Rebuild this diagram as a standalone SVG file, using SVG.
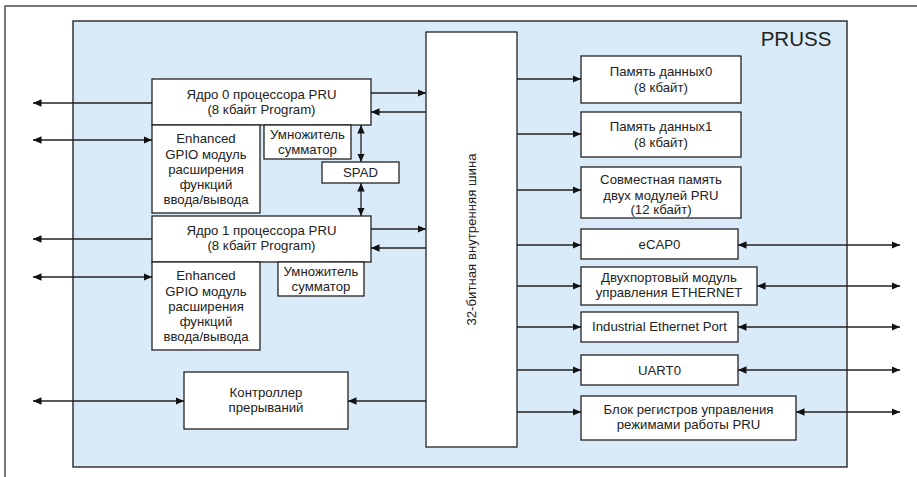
<svg xmlns="http://www.w3.org/2000/svg" width="917" height="477" viewBox="0 0 917 477">
<defs>
<marker id="ah" markerUnits="userSpaceOnUse" markerWidth="9" markerHeight="8" refX="8.5" refY="3.75" orient="auto-start-reverse">
<path d="M0,0 L8.5,3.75 L0,7.5 z" fill="#111"/>
</marker>
<style>
.box{fill:#fff;stroke:#222;stroke-width:1.3}
.t{font-family:"Liberation Sans",Arial,sans-serif;font-size:13.2px;fill:#222;text-anchor:middle}
.c{fill:none;stroke:#222;stroke-width:1.3}
.e{marker-end:url(#ah)}
.b{marker-start:url(#ah);marker-end:url(#ah)}
</style>
</defs>
<rect x="0" y="0" width="917" height="477" fill="#fff"/>
<rect x="5" y="6" width="930" height="490" fill="none" stroke="#333" stroke-width="1.3"/>
<g id="pruss">
<rect x="73" y="21" width="774" height="446" fill="#d9eaf8" stroke="#333" stroke-width="1.5"/>
<text x="796" y="46" style="font-family:'Liberation Sans',Arial,sans-serif;font-size:20.5px;fill:#222;text-anchor:middle">PRUSS</text>
</g>
<g id="bus">
<rect class="box" x="426" y="32" width="91" height="415"/>
<text class="t" transform="translate(475.5,239.5) rotate(-90)">32-битная внутренняя шина</text>
</g>
<g id="core0">
<rect class="box" x="152" y="79" width="219" height="46"/>
<text class="t" x="261.5" y="99">Ядро 0 процессора PRU</text>
<text class="t" x="261.5" y="114">(8 кбайт Program)</text>
</g>
<g id="gpio0">
<rect class="box" x="152" y="125" width="108" height="88"/>
<text class="t" x="206" y="143">Enhanced</text>
<text class="t" x="206" y="159">GPIO модуль</text>
<text class="t" x="206" y="174">расширения</text>
<text class="t" x="206" y="189">функций</text>
<text class="t" x="206" y="204">ввода/вывода</text>
</g>
<g id="mul0">
<rect class="box" x="264" y="125" width="87" height="34"/>
<text class="t" x="307.5" y="139">Умножитель</text>
<text class="t" x="307.5" y="154">сумматор</text>
</g>
<g id="spad">
<rect class="box" x="322" y="162" width="77" height="21"/>
<text class="t" x="360.5" y="177">SPAD</text>
</g>
<g id="core1">
<rect class="box" x="152" y="216" width="219" height="46"/>
<text class="t" x="261.5" y="235">Ядро 1 процессора PRU</text>
<text class="t" x="261.5" y="250">(8 кбайт Program)</text>
</g>
<g id="gpio1">
<rect class="box" x="152" y="262" width="108" height="88"/>
<text class="t" x="206" y="280">Enhanced</text>
<text class="t" x="206" y="296">GPIO модуль</text>
<text class="t" x="206" y="311">расширения</text>
<text class="t" x="206" y="326">функций</text>
<text class="t" x="206" y="341">ввода/вывода</text>
</g>
<g id="mul1">
<rect class="box" x="278" y="262" width="86" height="34"/>
<text class="t" x="321" y="276">Умножитель</text>
<text class="t" x="321" y="291">сумматор</text>
</g>
<g id="intc">
<rect class="box" x="184" y="372" width="164" height="57"/>
<text class="t" x="266" y="397">Контроллер</text>
<text class="t" x="266" y="412">прерываний</text>
</g>
<g id="dmem0">
<rect class="box" x="581" y="56" width="160" height="47"/>
<text class="t" x="661" y="76">Память данных0</text>
<text class="t" x="661" y="92">(8 кбайт)</text>
</g>
<g id="dmem1">
<rect class="box" x="581" y="112" width="160" height="45"/>
<text class="t" x="661" y="131">Память данных1</text>
<text class="t" x="661" y="147">(8 кбайт)</text>
</g>
<g id="shmem">
<rect class="box" x="581" y="167" width="160" height="51"/>
<text class="t" x="661" y="184">Совместная память</text>
<text class="t" x="661" y="200">двух модулей PRU</text>
<text class="t" x="661" y="214">(12 кбайт)</text>
</g>
<g id="ecap">
<rect class="box" x="581" y="229" width="157" height="30"/>
<text class="t" x="659.5" y="249">eCAP0</text>
</g>
<g id="mii">
<rect class="box" x="581" y="267" width="176" height="38"/>
<text class="t" x="669" y="282">Двухпортовый модуль</text>
<text class="t" x="669" y="297">управления ETHERNET</text>
</g>
<g id="iep">
<rect class="box" x="581" y="312" width="157" height="30"/>
<text class="t" x="659.5" y="331">Industrial Ethernet Port</text>
</g>
<g id="uart">
<rect class="box" x="581" y="355" width="157" height="30"/>
<text class="t" x="659.5" y="375">UART0</text>
</g>
<g id="cfg">
<rect class="box" x="581" y="396" width="215" height="44"/>
<text class="t" x="688.5" y="414">Блок регистров управления</text>
<text class="t" x="688.5" y="429">режимами работы PRU</text>
</g>
<g id="connectors">
<path class="c e" d="M152,103 H33"/>
<path class="c b" d="M33,140 H152"/>
<path class="c e" d="M152,239 H33"/>
<path class="c b" d="M33,277 H152"/>
<path class="c b" d="M33,401 H184"/>
<path class="c e" d="M371,93 H426"/>
<path class="c e" d="M426,112 H371"/>
<path class="c e" d="M371,229 H426"/>
<path class="c e" d="M426,248 H371"/>
<path class="c e" d="M426,401 H348"/>
<path class="c b" d="M361,125 V162"/>
<path class="c b" d="M361,183 V216"/>
<path class="c e" d="M517,79 H581"/>
<path class="c e" d="M517,134 H581"/>
<path class="c e" d="M517,190 H581"/>
<path class="c e" d="M517,245 H581"/>
<path class="c e" d="M517,286 H581"/>
<path class="c e" d="M517,327 H581"/>
<path class="c e" d="M517,370 H581"/>
<path class="c e" d="M517,412 H581"/>
<path class="c b" d="M738,245 H900"/>
<path class="c b" d="M757,286 H900"/>
<path class="c b" d="M738,327 H900"/>
<path class="c b" d="M738,370 H900"/>
<path class="c b" d="M796,412 H900"/>
</g>
</svg>
